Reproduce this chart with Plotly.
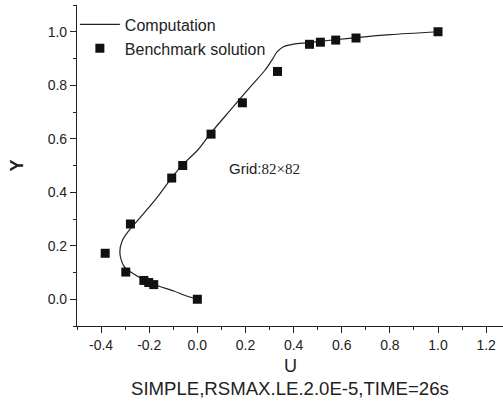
import plotly.graph_objects as go

# Computation curve
comp_u = [0.0, -0.05, -0.098, -0.181, -0.264, -0.306, -0.322, -0.312, -0.285, -0.237,
          -0.167, -0.105, -0.057, 0.0, 0.054, 0.137, 0.220, 0.282, 0.310, 0.331,
          0.358, 0.400, 0.455, 0.51, 0.57, 0.66, 0.80, 1.0]
comp_y = [0.0, 0.014, 0.031, 0.056, 0.094, 0.125, 0.175, 0.219, 0.256, 0.306,
          0.381, 0.456, 0.507, 0.556, 0.619, 0.707, 0.794, 0.857, 0.894, 0.925,
          0.944, 0.954, 0.959, 0.964, 0.970, 0.978, 0.989, 1.0]

# Benchmark solution
bench_u = [1.0, 0.65928, 0.57492, 0.51117, 0.46604, 0.33304, 0.18719, 0.05702, -0.0608,
           -0.10648, -0.27805, -0.38289, -0.2973, -0.2222, -0.20196, -0.18109, 0.0]
bench_y = [1.0, 0.9766, 0.9688, 0.9609, 0.9531, 0.8516, 0.7344, 0.6172, 0.5,
           0.4531, 0.2813, 0.1719, 0.1016, 0.0703, 0.0625, 0.0547, 0.0]

x_tickvals = [-0.4, -0.2, 0.0, 0.2, 0.4, 0.6, 0.8, 1.0, 1.2]
y_tickvals = [0.0, 0.2, 0.4, 0.6, 0.8, 1.0]

x_title = "U"
x_subtitle = "SIMPLE,RSMAX.LE.2.0E-5,TIME=26s"
y_title = "Y"

fig = go.Figure()
fig.add_trace(go.Scatter(x=comp_u, y=comp_y, mode="lines", name="Computation",
                         line=dict(color="#222222", width=1.2, shape="spline", smoothing=0.8)))
fig.add_trace(go.Scatter(x=bench_u, y=bench_y, mode="markers", name="Benchmark solution",
                         marker=dict(symbol="square", size=9, color="#111111")))

fig.add_annotation(x=0.123, y=0.49, xref="x", yref="y", xanchor="left", yanchor="middle",
                   text='Grid:<span style="font-family:Liberation Serif">82×82</span>',
                   showarrow=False, font=dict(family="Liberation Sans", size=15, color="#222"))

fig.add_annotation(x=0.5, y=0, xref="paper", yref="paper", yshift=-40, yanchor="middle",
                   text=x_title, showarrow=False,
                   font=dict(family="Liberation Sans", size=18, color="#222"))
fig.add_annotation(x=0.5, y=0, xref="paper", yref="paper", yshift=-62, yanchor="middle",
                   text=x_subtitle, showarrow=False,
                   font=dict(family="Liberation Sans", size=18.6, color="#222"))
fig.add_annotation(x=0, y=0.5, xref="paper", yref="paper", xshift=-61, xanchor="center",
                   text="<b>" + y_title + "</b>", textangle=-90, showarrow=False,
                   font=dict(family="Liberation Sans", size=18, color="#222"))

axis_common = dict(showline=True, linecolor="#222", linewidth=1.2, showgrid=False,
                   zeroline=False, ticks="outside", ticklen=6, tickwidth=1.2, tickcolor="#222",
                   automargin=False,
                   tickfont=dict(family="Liberation Sans", size=14, color="#222"))

fig.update_layout(
    width=503, height=401,
    margin=dict(l=77, r=0, t=5, b=75),
    paper_bgcolor="white", plot_bgcolor="white",
    font=dict(family="Liberation Sans", color="#222"),
    showlegend=True,
    legend=dict(x=-0.005, y=0.992, xanchor="left", yanchor="top", bgcolor="rgba(0,0,0,0)",
                font=dict(family="Liberation Sans", size=16, color="#222"),
                tracegroupgap=0, itemwidth=40),
    xaxis=dict(range=[-0.5, 1.27], tickvals=x_tickvals,
               ticktext=[f"{v:.1f}" for v in x_tickvals],
               minor=dict(ticks="outside", ticklen=3, dtick=0.1, tick0=0, tickcolor="#222"),
               **axis_common),
    yaxis=dict(range=[-0.1, 1.1], tickvals=y_tickvals,
               ticktext=[f"{v:.1f}" for v in y_tickvals],
               minor=dict(ticks="outside", ticklen=3, dtick=0.1, tick0=0, tickcolor="#222"),
               **axis_common),
)

fig.write_html("out.html", config={"displayModeBar": False},
               post_script="document.body.style.margin='0';document.body.style.overflow='hidden';")
